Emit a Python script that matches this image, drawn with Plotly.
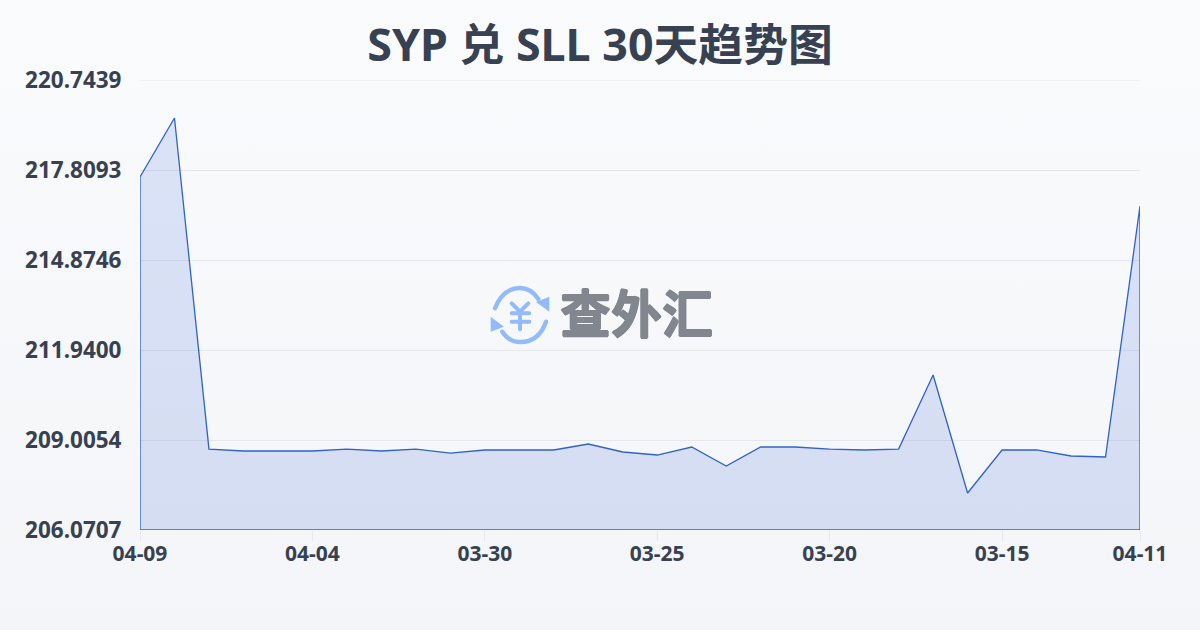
import base64
import plotly.graph_objects as go

dates = ['04-09', '04-08', '04-07', '04-06', '04-05', '04-04', '04-03', '04-02', '04-01', '03-31',
         '03-30', '03-29', '03-28', '03-27', '03-26', '03-25', '03-24', '03-23', '03-22', '03-21',
         '03-20', '03-19', '03-18', '03-17', '03-16', '03-15', '03-14', '03-13', '03-12', '04-11']
rates = [217.58, 219.505, 208.71, 208.647, 208.647, 208.647, 208.71, 208.647, 208.71, 208.58,
         208.68, 208.68, 208.68, 208.875, 208.614, 208.516, 208.777, 208.158, 208.777, 208.777,
         208.71, 208.68, 208.71, 211.125, 207.277, 208.68, 208.68, 208.484, 208.451, 216.635]
y_ticks = [206.0707, 209.0054, 211.9400, 214.8746, 217.8093, 220.7439]
x_ticks = ['04-09', '04-04', '03-30', '03-25', '03-20', '03-15', '04-11']

TEXT = '#374151'
CJK = '"Noto Sans", "Noto Sans CJK SC", sans-serif'
LINE = '#2f62cb'
GRID = '#e5e7eb'
LOGO_TEXT = '#82868f'

# page background and the logo are plain svg pictures
bg_svg = ('<svg xmlns="http://www.w3.org/2000/svg" width="1200" height="630" preserveAspectRatio="none">'
          '<defs><linearGradient id="g" x1="0" y1="0" x2="0" y2="1">'
          '<stop offset="0" stop-color="#fafbfd"/><stop offset="1" stop-color="#f3f5f8"/>'
          '</linearGradient></defs><rect width="1200" height="630" fill="url(#g)"/></svg>')
logo_svg = ('<svg xmlns="http://www.w3.org/2000/svg" viewBox="0 0 60 60" width="240" height="240">'
            '<g fill="none" stroke="#93bbfb" stroke-linecap="round">'
            '<path stroke-width="4.4" d="M5 23.3 Q13 3 30 3 Q41 3 48.3 14"/>'
            '<path stroke-width="4.4" d="M56 36.7 Q49 57 30 57 Q19 57 12.3 46.7"/>'
            '<path stroke-width="4" d="M21.7 18.3 L30 26.7 L38.3 18.3 M21.7 28.3 H39.3 M21.7 36.7 H39.3 M30 26.7 V44.3"/>'
            '</g><g fill="#93bbfb">'
            '<path d="M46 17 L59.3 11.7 L59.3 26.7 Z"/><path d="M0.7 31.7 L0.7 46.7 L14 41.7 Z"/>'
            '</g></svg>')


def data_uri(svg):
    return 'data:image/svg+xml;base64,' + base64.b64encode(svg.encode()).decode()


fig = go.Figure(go.Scatter(
    # first and last point repeated on the base so the outline closes
    x=[dates[0]] + dates + [dates[-1], dates[0]],
    y=[y_ticks[0]] + rates + [y_ticks[0], y_ticks[0]],
    mode='lines',
    line={'color': LINE, 'width': 1.3},
    fill='toself',
    fillgradient={'type': 'vertical',
                  'colorscale': [[0, 'rgba(60,100,210,0.17)'], [1, 'rgba(47,95,216,0.15)']]},
    cliponaxis=False,
    hoverinfo='x+y',
))

fig.update_layout(
    width=1200, height=630,
    margin={'l': 140, 'r': 60, 't': 80, 'b': 100},
    paper_bgcolor='#f6f8fa',
    plot_bgcolor='rgba(0,0,0,0)',
    showlegend=False,
    title={'text': 'SYP 兑 SLL 30天趋势图', 'x': 0.5, 'xanchor': 'center', 'y': 0.928, 'yanchor': 'middle',
           'font': {'family': CJK, 'size': 44.8, 'color': TEXT, 'weight': 700}},
    images=[
        {'source': data_uri(bg_svg), 'xref': 'paper', 'yref': 'paper', 'x': -0.14, 'y': 1 + 80 / 450,
         'sizex': 1.2, 'sizey': 1.4, 'sizing': 'stretch', 'layer': 'below', 'xanchor': 'left', 'yanchor': 'top'},
        {'source': data_uri(logo_svg), 'xref': 'paper', 'yref': 'paper', 'x': 0.35, 'y': 245 / 450,
         'sizex': 0.06, 'sizey': 60 / 450, 'sizing': 'stretch', 'layer': 'below', 'xanchor': 'left', 'yanchor': 'top'},
    ],
    # plotly leaves out the grid line on the very top of the range
    shapes=[{'type': 'line', 'xref': 'paper', 'yref': 'y', 'x0': 0, 'x1': 1,
             'y0': y_ticks[-1], 'y1': y_ticks[-1], 'line': {'color': GRID, 'width': 1}, 'layer': 'below'}],
    annotations=[{'text': '查外汇', 'xref': 'paper', 'yref': 'paper', 'x': 0.496, 'y': 0.482,
                  'xanchor': 'center', 'yanchor': 'middle', 'showarrow': False,
                  'font': {'family': CJK, 'size': 51, 'color': LOGO_TEXT, 'weight': 700,
                           # the logo lettering is heavier than the bold font
                           'shadow': f'0.8px 0 0 {LOGO_TEXT}, -0.8px 0 0 {LOGO_TEXT}, 0 0.8px 0 {LOGO_TEXT}, 0 -0.8px 0 {LOGO_TEXT}'}}],
)
fig.update_xaxes(type='category', categoryorder='array', categoryarray=dates, range=[0, len(dates) - 1],
                 tickmode='array', tickvals=x_ticks, ticktext=x_ticks,
                 ticks='outside', ticklen=10, tickwidth=1, tickcolor=GRID, ticklabelstandoff=-5,
                 showgrid=False, zeroline=False, showline=False, tickangle=0,
                 tickfont={'family': CJK, 'size': 21, 'color': TEXT, 'weight': 700})
fig.update_yaxes(range=[y_ticks[0], y_ticks[-1]],
                 tickmode='array', tickvals=y_ticks, ticktext=['%.4f' % v for v in y_ticks],
                 ticks='outside', ticklen=13, tickcolor='rgba(0,0,0,0)',
                 showgrid=True, gridcolor=GRID, gridwidth=1, zeroline=False, showline=False,
                 tickfont={'family': CJK, 'size': 22.5, 'color': TEXT, 'weight': 700})

# the page default leaves an 8px margin round the plot
fig.write_html("out.html", config={'displayModeBar': False},
               post_script="document.body.style.margin='0';")
